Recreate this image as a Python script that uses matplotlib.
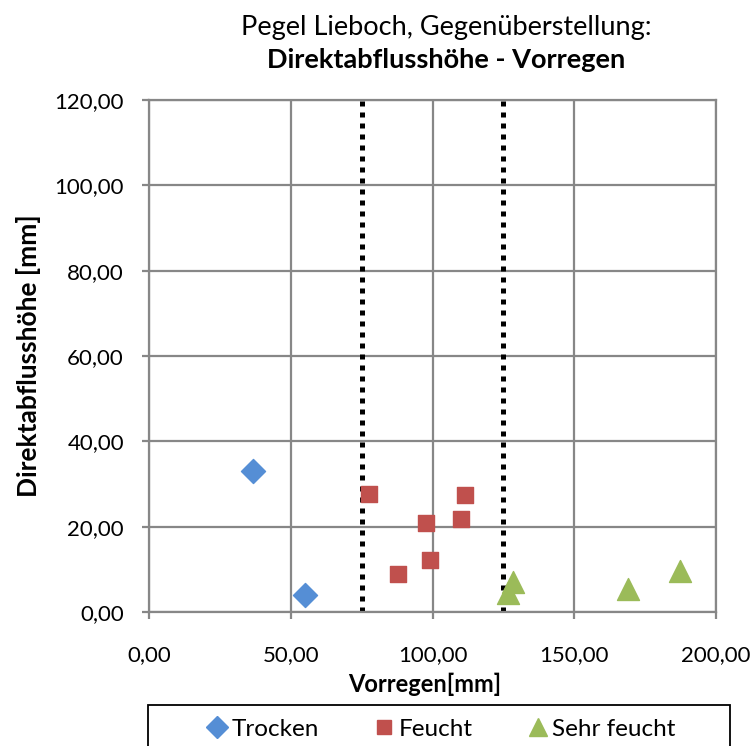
import matplotlib
matplotlib.use("Agg")
import matplotlib.pyplot as plt
from matplotlib.patches import Rectangle

plt.rcParams["font.family"] = ["Lato", "DejaVu Sans"]

# data
trocken_x = [36.7, 55.0]
trocken_y = [33.0, 4.0]
feucht_x = [77.6, 87.8, 97.6, 99.1, 110.1, 111.5]
feucht_y = [27.7, 9.0, 20.8, 12.3, 21.7, 27.4]
sehr_x = [126.8, 128.5, 169.1, 187.4]
sehr_y = [4.4, 7.1, 5.5, 9.7]
grenzen = [75.0, 125.0]

x_ticks = [0, 50, 100, 150, 200]
y_ticks = [0, 20, 40, 60, 80, 100, 120]


def fmt(v):
    return f"{v:.2f}".replace(".", ",")


W, H = 755, 746
fig = plt.figure(figsize=(W / 100, H / 100), dpi=100)
ax = fig.add_axes([149 / W, 1 - 612 / H, (716 - 149) / W, (612 - 100) / H])

grid_col = "#878787"
ax.set_xlim(0, 200)
ax.set_ylim(0, 120)
ax.set_xticks(x_ticks)
ax.set_yticks(y_ticks)
ax.set_xticklabels([fmt(v) for v in x_ticks], fontsize=16)
ax.set_yticklabels([fmt(v) for v in y_ticks], fontsize=16)
ax.grid(True, color=grid_col, lw=1.6, zorder=0)
ax.set_axisbelow(True)
for sp in ax.spines.values():
    sp.set_color(grid_col)
    sp.set_linewidth(1.6)
ax.tick_params(axis="both", color=grid_col, width=1.6, length=5)
ax.tick_params(axis="x", pad=19)
ax.tick_params(axis="y", pad=13)

for g in grenzen:
    ax.plot([g, g], [0, 120], color="black", lw=3.6, ls=(0, (1, 1.2)), zorder=2)

ax.scatter(trocken_x, trocken_y, marker="D", s=150, color="#558ED5", zorder=3)
ax.scatter(feucht_x, feucht_y, marker="s", s=125, color="#C0504D", zorder=3)
ax.scatter(sehr_x, sehr_y, marker="^", s=250, color="#9BBB59", zorder=3)

# axis labels placed like the reference
fig.text(425 / W, 1 - 684 / H, "Vorregen[mm]", ha="center", va="center",
         fontsize=17, fontweight="bold")
fig.text(29 / W, 1 - 356 / H, "Direktabflusshöhe [mm]", ha="center", va="center",
         rotation=90, fontsize=19, fontweight="bold")

fig.text(446 / W, 1 - 28 / H, "Pegel Lieboch, Gegenüberstellung:", ha="center", va="center", fontsize=19.5)
fig.text(446 / W, 1 - 60 / H, "Direktabflusshöhe - Vorregen", ha="center", va="center",
         fontsize=19.5, fontweight="bold")

# legend box runs off the bottom edge
fig.patches.append(Rectangle((148 / W, -0.05), (730 - 148) / W, 0.05 + 1 - 705 / H,
                             transform=fig.transFigure, fill=False, edgecolor="black", lw=1.3))
handles = [
    plt.Line2D([], [], marker="D", ls="", color="#558ED5", markersize=11),
    plt.Line2D([], [], marker="s", ls="", color="#C0504D", markersize=10),
    plt.Line2D([], [], marker="^", ls="", color="#9BBB59", markersize=13),
]
fig.legend(handles, ["Trocken", "Feucht", "Sehr feucht"], loc="center left",
           bbox_to_anchor=(205 / W, 1 - 729 / H), ncol=3, fontsize=17.5,
           frameon=False, borderpad=0, borderaxespad=0, handletextpad=0.08,
           columnspacing=2.2, handlelength=1.0)

fig.savefig("out.png", dpi=100)
